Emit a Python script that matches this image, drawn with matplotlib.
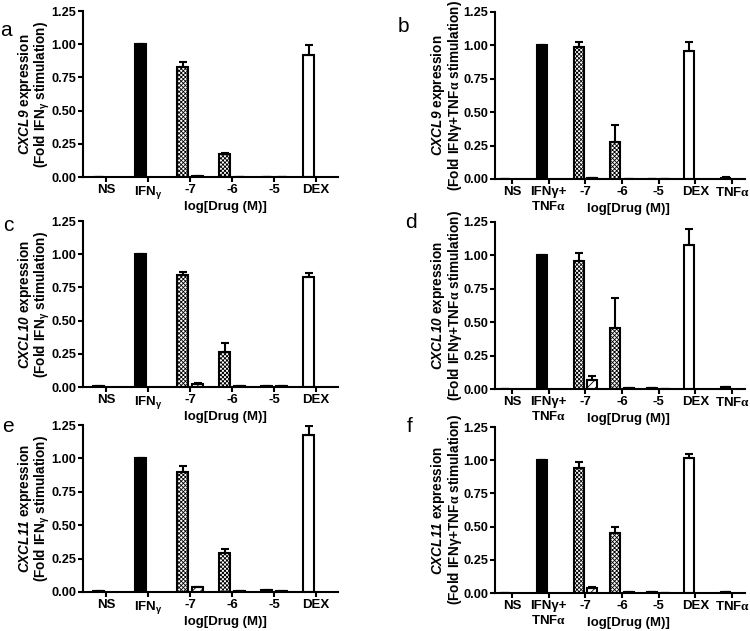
import numpy as np
import matplotlib
matplotlib.use('Agg')
import matplotlib.pyplot as plt

plt.rcParams.update({
    'font.family': 'Liberation Sans',
    'font.weight': 'bold',
    'mathtext.fontset': 'custom',
    'mathtext.bf': 'Liberation Sans:italic:bold',
    'mathtext.rm': 'Liberation Serif',
    'mathtext.it': 'Liberation Sans:italic',
    'hatch.linewidth': 0.6,
})

# ---------------- data ----------------
labels_left = ['NS', r'IFN$_\mathregular{γ}$', '-7', '-6', '-5', 'DEX']
labels_right = ['NS', 'IFNγ+\nTNF$\\mathrm{α}$', '-7', '-6', '-5', 'DEX', 'TNF$\\mathrm{α}$']
yticks = [0.0, 0.25, 0.5, 0.75, 1.0, 1.25]

# bar 1 of each group (NS, stim, -7, -6, -5, DEX[, TNFa])
a_val1 = [0.0, 1.0, 0.83, 0.17, 0.003, 0.92]
a_err1 = [0.0, 0.0, 0.035, 0.01, 0.0, 0.075]
a_val2 = [0.005, 0.0, 0.0]   # second drug at -7, -6, -5
a_err2 = [0.0, 0.0, 0.0]

b_val1 = [0.0, 1.0, 0.99, 0.277, 0.003, 0.96, 0.01]
b_err1 = [0.0, 0.0, 0.035, 0.13, 0.0, 0.065, 0.005]
b_val2 = [0.008, 0.0, 0.0]
b_err2 = [0.003, 0.0, 0.0]

c_val1 = [0.005, 1.0, 0.845, 0.26, 0.008, 0.83]
c_err1 = [0.0, 0.0, 0.02, 0.07, 0.003, 0.03]
c_val2 = [0.02, 0.005, 0.005]
c_err2 = [0.01, 0.0, 0.0]

d_val1 = [0.0, 1.0, 0.96, 0.454, 0.005, 1.08, 0.012]
d_err1 = [0.0, 0.0, 0.06, 0.23, 0.0, 0.12, 0.005]
d_val2 = [0.067, 0.004, 0.0]
d_err2 = [0.03, 0.0, 0.0]

e_val1 = [0.005, 1.0, 0.90, 0.29, 0.012, 1.175]
e_err1 = [0.0, 0.0, 0.04, 0.03, 0.003, 0.065]
e_val2 = [0.035, 0.01, 0.006]
e_err2 = [0.005, 0.0, 0.0]

f_val1 = [0.0, 1.0, 0.94, 0.45, 0.008, 1.02, 0.005]
f_err1 = [0.0, 0.0, 0.045, 0.05, 0.0, 0.03, 0.0]
f_val2 = [0.035, 0.005, 0.0]
f_err2 = [0.01, 0.0, 0.0]

genes = ['CXCL9', 'CXCL10', 'CXCL11']
letters = ['a', 'b', 'c', 'd', 'e', 'f']

# ---------------- figure ----------------
W, H = 750, 631
fig = plt.figure(figsize=(W / 100, H / 100), dpi=100)


def px_axes(x0, x1, ytop, ybot):
    return fig.add_axes([x0 / W, 1 - ybot / H, (x1 - x0) / W, (ybot - ytop) / H])


def draw(ax, labels, v1, e1, v2, e2, gene, right):
    n = len(labels)
    x = np.arange(n)
    w = 0.27
    off = 0.18
    faces = ['white', 'black', 'white', 'white', 'white', 'white', 'white'][:n]
    hatches = ['', '', 'xxxxxxxx', 'xxxxxxxx', 'xxxxxxxx', '', ''][:n]
    for i in range(n):
        ax.bar(x[i] - off, v1[i], width=w, color=faces[i], edgecolor='black',
               linewidth=1.5, hatch=hatches[i], zorder=2)
    ax.errorbar(x - off, v1, yerr=[np.zeros(n), e1], fmt='none', ecolor='black',
                elinewidth=1.5, capsize=2.6, capthick=1.5, zorder=3)
    x2 = x[2:5] + off
    ax.bar(x2, v2, width=w, color='white', edgecolor='black', linewidth=1.5,
           hatch='////', zorder=2)
    ax.errorbar(x2, v2, yerr=[np.zeros(3), e2], fmt='none', ecolor='black',
                elinewidth=1.5, capsize=2.6, capthick=1.5, zorder=3)

    ax.set_ylim(0, 1.25)
    ax.set_yticks(yticks)
    ax.set_yticklabels(['%.2f' % t for t in yticks])
    ax.set_xticks(x)
    ax.set_xticklabels(labels)
    if right:
        ax.set_xlim(-0.46, 6.35)
    else:
        ax.set_xlim(-0.55, 5.52)
    for s in ['top', 'right']:
        ax.spines[s].set_visible(False)
    for s in ['left', 'bottom']:
        ax.spines[s].set_linewidth(1.5)
    ax.tick_params(direction='out', length=3.5, width=1.5, labelsize=9.5, pad=1.2)
    ax.tick_params(axis='y', labelsize=9.2)
    for t in ax.get_xticklabels() + ax.get_yticklabels():
        t.set_fontweight('bold')

    if right:
        stim = '(Fold IFNγ+TNF$\\mathrm{α}$ stimulation)'
        ax.yaxis.set_label_coords(-0.124, 0.5)
        ax.text(0.532, -0.178, 'log[Drug (M)]', transform=ax.transAxes,
                ha='center', va='center', fontsize=9.5, fontweight='bold')
    else:
        stim = r'(Fold IFN$_\mathregular{γ}$ stimulation)'
        ax.yaxis.set_label_coords(-0.12, 0.5)
        ax.text(0.557, -0.178, 'log[Drug (M)]', transform=ax.transAxes,
                ha='center', va='center', fontsize=9.5, fontweight='bold')
    ax.set_ylabel('$\\mathbf{%s}$ expression\n%s' % (gene, stim),
                  fontsize=9.8, fontweight='bold', linespacing=0.95)


ax_a = px_axes(83, 338, 11, 177)
ax_b = px_axes(495, 745, 12, 179)
ax_c = px_axes(83, 338, 221, 387)
ax_d = px_axes(495, 745, 222, 389)
ax_e = px_axes(83, 338, 425, 592)
ax_f = px_axes(495, 745, 427, 593)

draw(ax_a, labels_left, a_val1, a_err1, a_val2, a_err2, genes[0], False)
draw(ax_b, labels_right, b_val1, b_err1, b_val2, b_err2, genes[0], True)
draw(ax_c, labels_left, c_val1, c_err1, c_val2, c_err2, genes[1], False)
draw(ax_d, labels_right, d_val1, d_err1, d_val2, d_err2, genes[1], True)
draw(ax_e, labels_left, e_val1, e_err1, e_val2, e_err2, genes[2], False)
draw(ax_f, labels_right, f_val1, f_err1, f_val2, f_err2, genes[2], True)

letter_pos = [(0, 31), (398, 26), (3, 225), (405, 222), (2, 427), (407, 426)]
for lt, (lx, ly) in zip(letters, letter_pos):
    fig.text(lx / W, 1 - ly / H, lt, fontsize=15, fontweight='normal',
             ha='left', va='center')

fig.savefig('out.png', dpi=100)
